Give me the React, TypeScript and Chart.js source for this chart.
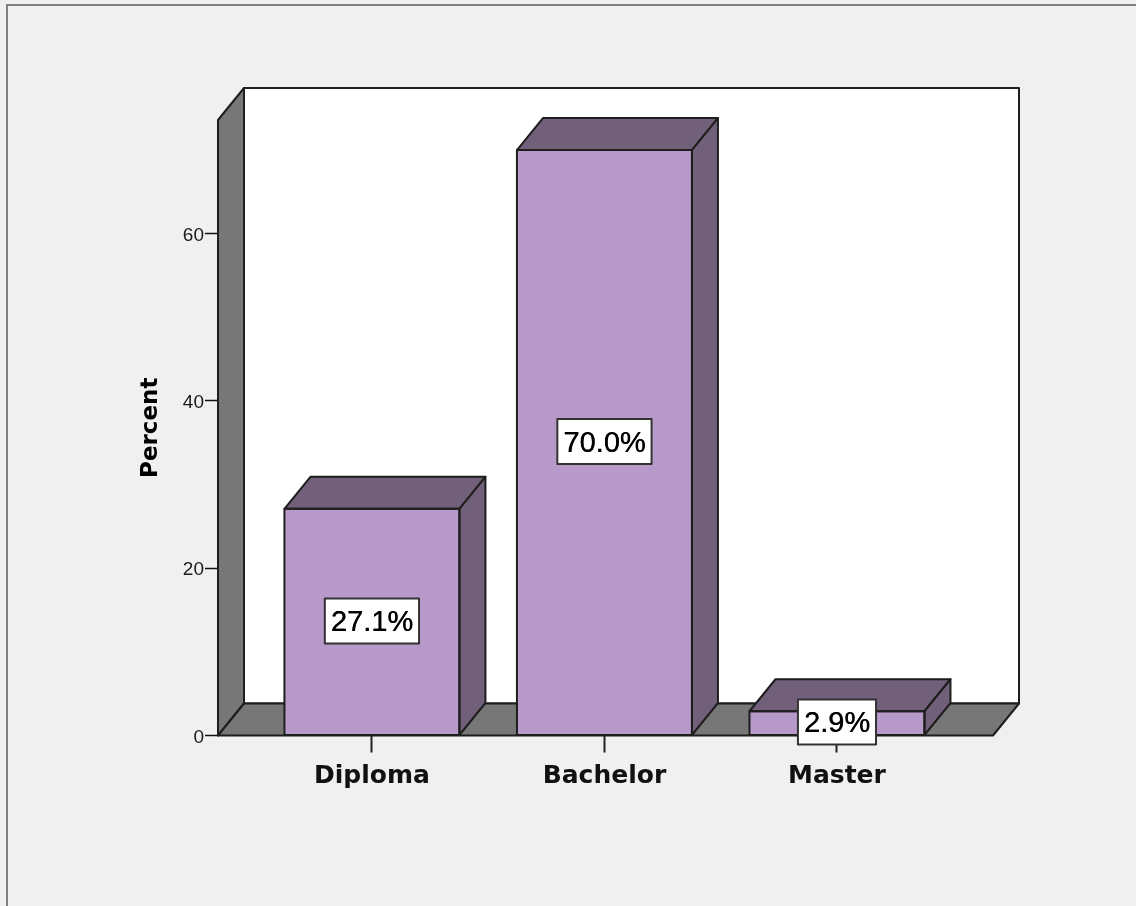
import React, { useEffect, useRef } from "react";
import { Chart, registerables } from "chart.js";

Chart.register(...registerables);

// ---- data ----
const categories: string[] = ["Diploma", "Bachelor", "Master"];
const percents: number[] = [27.1, 70.0, 2.9];
const percentLabels: string[] = ["27.1%", "70.0%", "2.9%"];
const yTickValues: number[] = [0, 20, 40, 60];
const yAxisMax = 73.6;
const xAxisMin = -0.662;
const xAxisMax = 2.671;

// ---- style constants ----
const DEPTH_X = 26;
const DEPTH_Y = -32;
const BG = "#f0f0f0";
const WALL = "#777777";
const FRONT = "#b89aca";
const DARK = "#72607a";
const LINE = "#1e1e1e";

const threeDPlugin = {
  id: "threeD",
  beforeDraw(chart: any) {
    const ctx = chart.ctx as CanvasRenderingContext2D;
    ctx.save();
    ctx.fillStyle = BG;
    ctx.fillRect(0, 0, chart.width, chart.height);
    ctx.strokeStyle = "#808080";
    ctx.lineWidth = 2;
    ctx.beginPath();
    ctx.moveTo(7, chart.height + 10);
    ctx.lineTo(7, 5);
    ctx.lineTo(chart.width + 10, 5);
    ctx.stroke();
    ctx.restore();
  },
  beforeDatasetsDraw(chart: any) {
    const ctx = chart.ctx as CanvasRenderingContext2D;
    const { left: L, right: R, top: T, bottom: B } = chart.chartArea;
    const dx = DEPTH_X, dy = DEPTH_Y;
    ctx.save();
    ctx.lineWidth = 2;
    ctx.lineJoin = "round";
    ctx.strokeStyle = LINE;
    // back wall
    ctx.fillStyle = "#ffffff";
    ctx.beginPath();
    ctx.rect(L + dx, T + dy, R - L, B - T);
    ctx.fill();
    ctx.stroke();
    // left wall
    ctx.fillStyle = WALL;
    ctx.beginPath();
    ctx.moveTo(L, T);
    ctx.lineTo(L + dx, T + dy);
    ctx.lineTo(L + dx, B + dy);
    ctx.lineTo(L, B);
    ctx.closePath();
    ctx.fill();
    ctx.stroke();
    // floor
    ctx.beginPath();
    ctx.moveTo(L, B);
    ctx.lineTo(L + dx, B + dy);
    ctx.lineTo(R + dx, B + dy);
    ctx.lineTo(R, B);
    ctx.closePath();
    ctx.fill();
    ctx.stroke();
    ctx.restore();
  },
  afterDatasetsDraw(chart: any) {
    const ctx = chart.ctx as CanvasRenderingContext2D;
    const meta = chart.getDatasetMeta(0);
    const dx = DEPTH_X, dy = DEPTH_Y;
    ctx.save();
    ctx.lineWidth = 2;
    ctx.lineJoin = "round";
    ctx.strokeStyle = LINE;
    ctx.fillStyle = DARK;
    meta.data.forEach((el: any) => {
      const { x, y, base, width } = el.getProps(["x", "y", "base", "width"], true);
      const l = x - width / 2;
      const r = x + width / 2;
      // top face
      ctx.beginPath();
      ctx.moveTo(l, y);
      ctx.lineTo(l + dx, y + dy);
      ctx.lineTo(r + dx, y + dy);
      ctx.lineTo(r, y);
      ctx.closePath();
      ctx.fill();
      ctx.stroke();
      // side face
      ctx.beginPath();
      ctx.moveTo(r, y);
      ctx.lineTo(r + dx, y + dy);
      ctx.lineTo(r + dx, base + dy);
      ctx.lineTo(r, base);
      ctx.closePath();
      ctx.fill();
      ctx.stroke();
      // front outline
      ctx.beginPath();
      ctx.rect(l, y, width, base - y);
      ctx.stroke();
    });
    // value labels
    ctx.font = "29px 'Liberation Sans', Arial, sans-serif";
    ctx.textAlign = "center";
    ctx.textBaseline = "middle";
    meta.data.forEach((el: any, i: number) => {
      const { x, y, base } = el.getProps(["x", "y", "base"], true);
      const text = percentLabels[i];
      const tw = ctx.measureText(text).width;
      const bw = tw + 12;
      const bh = 45;
      const cy = (y + base) / 2 - 1;
      ctx.fillStyle = "#ffffff";
      ctx.strokeStyle = "#333333";
      ctx.lineWidth = 2;
      ctx.beginPath();
      ctx.rect(x - bw / 2, cy - bh / 2, bw, bh);
      ctx.fill();
      ctx.stroke();
      ctx.fillStyle = "#000000";
      ctx.fillText(text, x, cy + 2);
      ctx.fillText(text, x + 0.4, cy + 2);
    });
    ctx.restore();
  },
};

export default function App() {
  const ref = useRef<HTMLCanvasElement>(null);

  useEffect(() => {
    const canvas = ref.current;
    if (!canvas) return;
    const chart = new Chart(canvas, {
      type: "bar",
      data: {
        datasets: [
          {
            data: percents.map((v, i) => ({ x: i, y: v })),
            backgroundColor: FRONT,
            borderColor: LINE,
            borderWidth: 0,
            barThickness: 175,
          } as any,
        ],
      },
      options: {
        animation: false,
        responsive: false,
        events: [],
        layout: { padding: { left: 133, top: 120, right: 143, bottom: 110.5 } },
        plugins: {
          legend: { display: false },
          tooltip: { enabled: false },
        },
        scales: {
          x: {
            type: "linear",
            min: xAxisMin,
            max: xAxisMax,
            offset: false,
            afterBuildTicks: (s: any) => {
              s.ticks = categories.map((_, i) => ({ value: i }));
            },
            afterFit: (s: any) => {
              s.height = 60;
            },
            ticks: {
              autoSkip: false,
              maxRotation: 0,
              padding: 9,
              color: "#111111",
              font: { family: "'DejaVu Sans', sans-serif", size: 25, weight: "bold" },
              callback: (v: any) => categories[Number(v)] ?? "",
            },
            grid: {
              offset: false,
              drawOnChartArea: false,
              drawTicks: true,
              tickLength: 17,
              tickColor: "#222222",
              tickWidth: 2,
            },
            border: { display: false },
          } as any,
          y: {
            type: "linear",
            min: 0,
            max: yAxisMax,
            afterBuildTicks: (s: any) => {
              s.ticks = yTickValues.map((v) => ({ value: v }));
            },
            afterFit: (s: any) => {
              s.width = 85;
            },
            ticks: {
              padding: 1,
              labelOffset: 2,
              color: "#1a1a1a",
              font: { family: "'Liberation Sans', Arial, sans-serif", size: 19 },
            },
            grid: {
              drawOnChartArea: false,
              drawTicks: true,
              tickLength: 13,
              tickColor: "#111111",
              tickWidth: 1.5,
            },
            border: { display: false },
            title: {
              display: true,
              text: "Percent",
              color: "#000000",
              padding: { top: 4, bottom: 4 },
              font: { family: "'DejaVu Sans', sans-serif", size: 23, weight: "bold" },
            },
          } as any,
        },
      },
      plugins: [threeDPlugin],
    });
    return () => chart.destroy();
  }, []);

  return (
    <div
      style={{
        position: "absolute",
        left: 0,
        top: 0,
        width: 1136,
        height: 906,
        background: BG,
        overflow: "hidden",
      }}
    >
      <canvas ref={ref} width={1136} height={906} style={{ display: "block" }} />
    </div>
  );
}
